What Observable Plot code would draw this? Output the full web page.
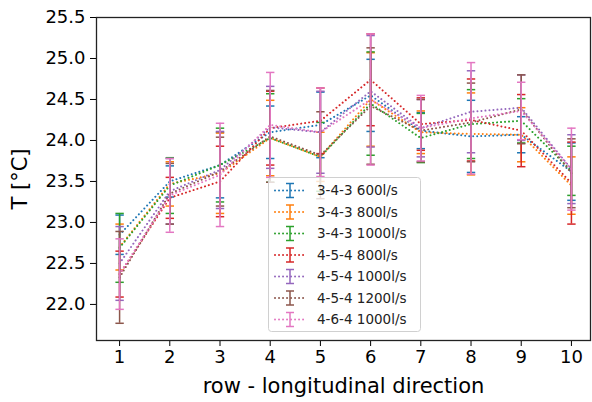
<!DOCTYPE html>
<html><head><meta charset="utf-8">
<script src="https://cdn.jsdelivr.net/npm/d3@7"></script>
<script src="https://cdn.jsdelivr.net/npm/@observablehq/plot@0.6"></script>
<style>
body{margin:0;background:#fff;font-family:"DejaVu Sans",sans-serif;}
#wrap{position:relative;width:592px;height:402px;overflow:hidden;}
</style></head><body><div id="wrap"></div>
<script>
const rows = [1, 2, 3, 4, 5, 6, 7, 8, 9, 10];
const yTicks = [22.0, 22.5, 23.0, 23.5, 24.0, 24.5, 25.0, 25.5];
const seriesNames = ["3-4-3 600l/s", "3-4-3 800l/s", "3-4-3 1000l/s", "4-5-4 800l/s", "4-5-4 1000l/s", "4-5-4 1200l/s", "4-6-4 1000l/s"];
const colors = ["#1f77b4", "#ff7f0e", "#2ca02c", "#d62728", "#9467bd", "#8c564b", "#e377c2"];

const mean343_600  = [22.85, 23.50, 23.70, 24.10, 24.19, 24.55, 24.12, 24.05, 24.07, 23.62];
const err343_600   = [0.24, 0.19, 0.40, 0.32, 0.40, 0.44, 0.22, 0.44, 0.22, 0.35];
const mean343_800  = [22.70, 23.47, 23.60, 24.03, 23.80, 24.50, 24.10, 24.08, 24.07, 23.45];
const err343_800   = [0.28, 0.27, 0.49, 0.46, 0.30, 0.57, 0.26, 0.50, 0.33, 0.35];
const mean343_1000 = [22.69, 23.45, 23.70, 24.03, 23.80, 24.45, 24.03, 24.20, 24.24, 23.63];
const err343_1000  = [0.42, 0.34, 0.45, 0.54, 0.42, 0.63, 0.30, 0.42, 0.27, 0.30];
const mean454_800  = [22.37, 23.30, 23.50, 24.15, 24.24, 24.74, 24.20, 24.25, 24.12, 23.48];
const err454_800   = [0.28, 0.25, 0.43, 0.45, 0.40, 0.56, 0.32, 0.50, 0.44, 0.50];
const mean454_1000 = [22.50, 23.38, 23.64, 24.16, 24.10, 24.60, 24.15, 24.35, 24.40, 23.65];
const err454_1000  = [0.45, 0.40, 0.47, 0.50, 0.50, 0.68, 0.35, 0.50, 0.40, 0.42];
const mean454_1200 = [22.33, 23.35, 23.62, 24.05, 23.82, 24.42, 24.12, 24.22, 24.38, 23.60];
const err454_1200  = [0.56, 0.37, 0.42, 0.56, 0.53, 0.71, 0.38, 0.48, 0.42, 0.42];
const mean464_1000 = [22.37, 23.33, 23.58, 24.19, 24.10, 24.50, 24.15, 24.27, 24.36, 23.65];
const err464_1000  = [0.43, 0.45, 0.63, 0.64, 0.54, 0.80, 0.40, 0.68, 0.35, 0.50];

const means = [mean343_600, mean343_800, mean343_1000, mean454_800, mean454_1000, mean454_1200, mean464_1000];
const errs  = [err343_600, err343_800, err343_1000, err454_800, err454_1000, err454_1200, err464_1000];

const series = seriesNames.map((name, i) => rows.map((r, j) => ({row: r, mean: means[i][j], err: errs[i][j], name})));

const capSymbol = {draw(ctx, size) { const r = Math.sqrt(size / Math.PI); ctx.moveTo(-r, 0); ctx.lineTo(r, 0); }};
const DOT = "0.01,4";

const marks = [];
series.forEach((data, i) => {
  const c = colors[i];
  marks.push(Plot.line(data, {x: "row", y: "mean", stroke: c, strokeWidth: 2, strokeDasharray: DOT, strokeLinecap: "round"}));
  marks.push(Plot.ruleX(data, {x: "row", y1: d => d.mean - d.err, y2: d => d.mean + d.err, stroke: c, strokeWidth: 1.5}));
  marks.push(Plot.dot(data, {x: "row", y: d => d.mean - d.err, symbol: capSymbol, r: 4.2, stroke: c, strokeWidth: 1.5, fill: "none"}));
  marks.push(Plot.dot(data, {x: "row", y: d => d.mean + d.err, symbol: capSymbol, r: 4.2, stroke: c, strokeWidth: 1.5, fill: "none"}));
});

const chart = Plot.plot({
  width: 592, height: 402,
  marginLeft: 96, marginRight: 2, marginTop: 17, marginBottom: 62,
  style: {fontFamily: "DejaVu Sans, sans-serif", fontSize: "18px", color: "#000", background: "#fff"},
  x: {domain: [0.54, 10.38], ticks: rows, tickFormat: d => String(d), tickSize: 6, tickPadding: 4,
      label: "row - longitudinal direction", labelAnchor: "center", labelOffset: 52, labelArrow: "none"},
  y: {domain: [21.56, 25.5], ticks: yTicks, tickFormat: d3.format(".1f"), tickSize: 6, tickPadding: 5,
      label: "T [°C]", labelAnchor: "center", labelOffset: 84, labelArrow: "none"},
  marks: [
    ...marks,
    Plot.frame({stroke: "#222", strokeWidth: 1.3})
  ]
});
chart.querySelectorAll("g[aria-label='x-axis label'] text, g[aria-label='y-axis label'] text").forEach(t => t.setAttribute("font-size", "21px"));

const wrap = document.getElementById("wrap");
wrap.appendChild(chart);

// legend
const lw = 152, lh = 154;
const leg = d3.create("svg").attr("width", lw + 1).attr("height", lh + 1)
  .style("position", "absolute").style("left", "268px").style("top", "177px");
leg.append("rect").attr("x", 0.5).attr("y", 0.5).attr("width", lw).attr("height", lh).attr("rx", 3)
  .attr("fill", "rgba(255,255,255,0.8)").attr("stroke", "#d0d0d0");
seriesNames.forEach((name, i) => {
  const y = 13.5 + i * 21.5;
  const g = leg.append("g").attr("transform", `translate(0,${y})`);
  g.append("line").attr("x1", 7).attr("x2", 37).attr("y1", 0).attr("y2", 0)
    .attr("stroke", colors[i]).attr("stroke-width", 2).attr("stroke-dasharray", DOT).attr("stroke-linecap", "round");
  g.append("line").attr("x1", 22).attr("x2", 22).attr("y1", -7).attr("y2", 7).attr("stroke", colors[i]).attr("stroke-width", 1.5);
  g.append("line").attr("x1", 18).attr("x2", 26).attr("y1", -7).attr("y2", -7).attr("stroke", colors[i]).attr("stroke-width", 1.5);
  g.append("line").attr("x1", 18).attr("x2", 26).attr("y1", 7).attr("y2", 7).attr("stroke", colors[i]).attr("stroke-width", 1.5);
  g.append("text").attr("x", 49).attr("y", 0).attr("dy", "0.35em").attr("font-size", "13.5px")
    .attr("font-family", "DejaVu Sans, sans-serif").attr("fill", "#222").text(name);
});
wrap.appendChild(leg.node());
</script></body></html>
